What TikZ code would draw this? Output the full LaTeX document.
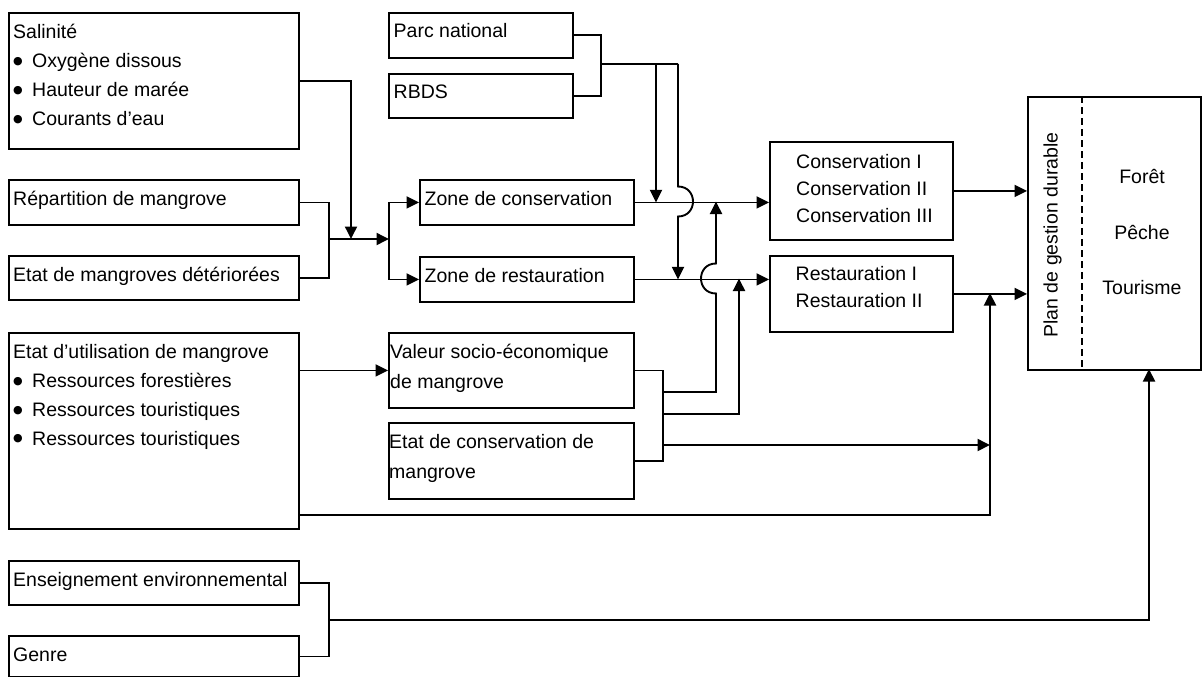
\documentclass[tikz,border=0pt]{standalone}
\usepackage{fontspec}
\setmainfont{Liberation Sans}
\newfontfamily\symfont{DejaVu Sans}
\usetikzlibrary{arrows.meta,calc}
\newcommand\itembullet{\makebox[19pt][l]{\raisebox{3.5pt}{\symfont\fontsize{11}{11}\selectfont ●}}}
\begin{document}
\begin{tikzpicture}[x=1pt,y=-1pt,
  font=\fontsize{19.5}{29}\selectfont,
  blk/.style={draw,line width=1.9pt,rectangle,anchor=north west,inner sep=0pt},
  txt/.style={anchor=base west,inner sep=0pt},
  ctxt/.style={anchor=base,inner sep=0pt},
  conn/.style={line width=1.9pt},
  arr/.style={conn,-{Triangle[length=12.5pt,width=12pt]}}]
\useasboundingbox (0,0) rectangle (1202,677);

% ---- boxes ----
\node[blk,minimum width=290pt,minimum height=136pt] (sal) at (8,12) {};
\node[blk,minimum width=290pt,minimum height=45pt] (rep) at (8,179) {};
\node[blk,minimum width=290pt,minimum height=44pt] (det) at (8,255) {};
\node[blk,minimum width=290pt,minimum height=196pt] (uti) at (8,332) {};
\node[blk,minimum width=290pt,minimum height=44pt] (ens) at (8,560) {};
\node[blk,minimum width=290pt,minimum height=41pt] (gen) at (8,635) {};
\node[blk,minimum width=184pt,minimum height=45pt] (parc) at (388,12) {};
\node[blk,minimum width=184pt,minimum height=44pt] (rbds) at (388,73) {};
\node[blk,minimum width=214pt,minimum height=45pt] (zcons) at (419,179) {};
\node[blk,minimum width=214pt,minimum height=45pt] (zrest) at (419,256) {};
\node[blk,minimum width=245pt,minimum height=75pt] (val) at (388,332) {};
\node[blk,minimum width=245pt,minimum height=76pt] (ecm) at (388,422) {};
\node[blk,minimum width=183pt,minimum height=98pt] (cons) at (769,141) {};
\node[blk,minimum width=183pt,minimum height=76pt] (rest) at (769,255) {};
\node[blk,minimum width=173pt,minimum height=273pt] (plan) at (1027,96) {};
\draw[line width=1.9pt,dash pattern=on 7pt off 4pt]
  ($(plan.north west)+(55,0)$) -- ($(plan.south west)+(55,0)$);

% ---- texts ----
\node[txt] (t1a) at (13,38.5) {Salinité};
\node[txt] (t1b) at (13,67.5) {\itembullet Oxygène dissous};
\node[txt] (t1c) at (13,96.5) {\itembullet Hauteur de marée};
\node[txt] (t1d) at (13,125.5) {\itembullet Courants d’eau};
\node[txt] (t2) at (13,205) {Répartition de mangrove};
\node[txt] (t3) at (13,281) {Etat de mangroves détériorées};
\node[txt] (t4a) at (13,358.5) {Etat d’utilisation de mangrove};
\node[txt] (t4b) at (13,387.5) {\itembullet Ressources forestières};
\node[txt] (t4c) at (13,416.5) {\itembullet Ressources touristiques};
\node[txt] (t4d) at (13,445) {\itembullet Ressources touristiques};
\node[txt] (t5) at (13,586) {Enseignement environnemental};
\node[txt] (t6) at (13,661) {Genre};
\node[txt] (t7) at (393.5,38) {Parc national};
\node[txt] (t8) at (393.5,99) {RBDS};
\node[txt] (t9) at (424.5,205) {Zone de conservation};
\node[txt] (t10) at (424.5,282) {Zone de restauration};
\node[txt] (t11a) at (390,358.5) {Valeur socio-économique};
\node[txt] (t11b) at (390,388) {de mangrove};
\node[txt] (t12a) at (389,448.5) {Etat de conservation de};
\node[txt] (t12b) at (389,478) {mangrove};
\node[txt] (t13a) at (796,168) {Conservation I};
\node[txt] (t13b) at (796,195.3) {Conservation II};
\node[txt] (t13c) at (796,222.6) {Conservation III};
\node[txt] (t14a) at (795.5,280.5) {Restauration I};
\node[txt] (t14b) at (795.5,307.8) {Restauration II};
\node[ctxt,rotate=90] (t15) at (1057.5,235) {Plan de gestion durable};
\node[ctxt] (t16a) at (1142,183.3) {Forêt};
\node[ctxt] (t16b) at (1142,239) {Pêche};
\node[ctxt] (t16c) at (1142,294) {Tourisme};

% ---- junction points ----
\coordinate (mrd) at (329,239);
\coordinate (sdrop) at (351,239);
\coordinate (fork) at (389,239);
\coordinate (mpr) at (601,64);
\coordinate (dc) at (656,64);
\coordinate (tpr) at (678,64);
\coordinate (mve) at (663,414);
\coordinate (b1) at (663,392);
\coordinate (b3) at (663,445);
\coordinate (cupZ) at (716,201.5);
\coordinate (cupR) at (739,278.5);
\coordinate (rj) at (990,293);
\coordinate (rjin) at (990,445);
\coordinate (meg) at (329,620);
\coordinate (pin) at (1149,369);

% ---- connectors ----
\draw[arr] (sal.east) -| (sdrop);
\draw[conn] (rep.east) -| (mrd) |- (det.east);
\draw[arr] (mrd) -- (fork);
\draw[arr] (fork) |- (zcons.west);
\draw[arr] (fork) |- (zrest.west);

\draw[conn] (parc.east) -| (mpr) |- (rbds.east);
\draw[conn] (mpr) -- (tpr);
\draw[arr] (dc) -- (dc |- zcons.east);
\draw[arr] (tpr) -- (678,186.5) .. controls (698,186.5) and (698,216.5) .. (678,216.5)
  -- (tpr |- zrest.east);

\draw[arr] (zcons.east) -- (zcons.east -| cons.west);
\draw[arr] (zrest.east) -- (zrest.east -| rest.west);

\draw[arr] (uti.east |- val.west) -- (val.west);
\draw[conn] (val.east) -| (mve) |- (ecm.east);
\draw[arr] (b1) -| (716,293.5) .. controls (696,293.5) and (696,263.5) .. (716,263.5)
  -- (cupZ);
\draw[arr] (mve) -| (cupR);
\draw[arr] (b3) -- (rjin);
\draw[arr] ($(uti.south east)+(0,-15)$) -| (rj);

\draw[arr] (cons.east) -- (cons.east -| plan.west);
\draw[arr] (rest.east) -- (rest.east -| plan.west);

\draw[conn] (ens.east) -| (meg) |- (gen.east);
\draw[arr] (meg) -| (pin);
\end{tikzpicture}
\end{document}
